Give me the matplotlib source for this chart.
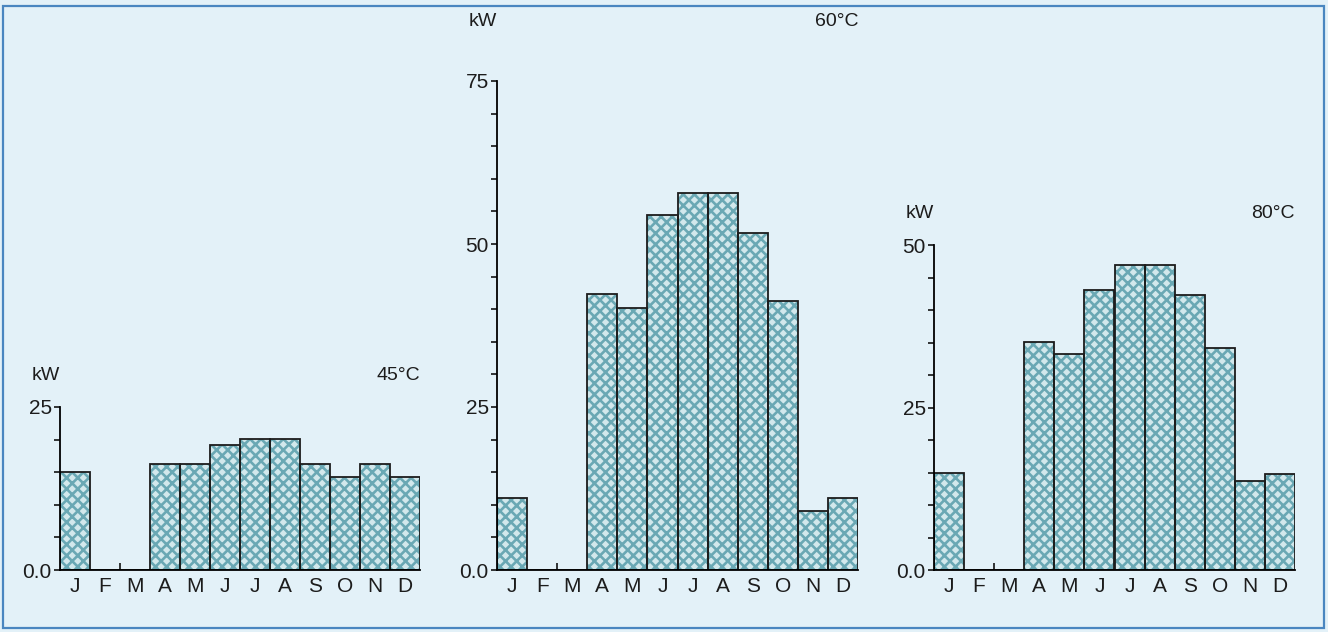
import numpy as np
import matplotlib
matplotlib.use("Agg")
import matplotlib.pyplot as plt
from matplotlib.patches import Rectangle

plt.rcParams["font.family"] = ["Liberation Sans", "DejaVu Sans"]
plt.rcParams["hatch.linewidth"] = 1.9

months = ["J", "F", "M", "A", "M", "J", "J", "A", "S", "O", "N", "D"]
kw_45 = [15.0, 0, 0, 16.2, 16.2, 19.1, 20.1, 20.1, 16.3, 14.2, 16.3, 14.2]
kw_60 = [11.1, 0, 0, 42.4, 40.2, 54.5, 57.8, 57.8, 51.7, 41.2, 9.1, 11.0]
kw_80 = [14.9, 0, 0, 35.1, 33.3, 43.1, 46.9, 46.9, 42.3, 34.1, 13.7, 14.8]
temps = ["45°C", "60°C", "80°C"]
ymax = [25, 75, 50]

BG = "#e3f1f8"
FILL = "#d2e8ec"
HATCH = "#6aa8b4"
INK = "#1c1c1c"

W, H = 1328, 632
fig = plt.figure(figsize=(W / 100, H / 100), dpi=100)
fig.patch.set_facecolor(BG)
fig.patches.append(Rectangle((3 / W, 4 / H), 1 - 7 / W, 1 - 10 / H, transform=fig.transFigure,
                             fill=False, edgecolor="#4a86c0", lw=1.6))

# axes boxes in pixels: left, right, top, bottom (from top of image)
boxes = [(60, 420, 407, 570), (497, 858, 81, 570), (934, 1295, 245, 570)]
label_y = [375, 22, 214]

for data, temp, top, (x0, x1, yt, yb), ly in zip([kw_45, kw_60, kw_80], temps, ymax, boxes, label_y):
    ax = fig.add_axes([x0 / W, 1 - yb / H, (x1 - x0) / W, (yb - yt) / H])
    ax.set_facecolor("none")
    x = np.arange(len(months))
    ax.bar(x, data, width=1.0, color=FILL, hatch="xxx", edgecolor=HATCH, lw=0)
    ax.bar(x, data, width=1.0, fill=False, edgecolor=INK, lw=1.3)
    ax.set_xlim(-0.5, 11.5)
    ax.set_ylim(0, top)
    for s in ["top", "right"]:
        ax.spines[s].set_visible(False)
    ax.spines["left"].set_linewidth(1.3)
    ax.spines["bottom"].set_linewidth(1.3)
    majors = list(range(0, top + 1, 25))
    ax.set_yticks(majors)
    ax.set_yticklabels(["0.0"] + [str(v) for v in majors[1:]], fontsize=15, color=INK)
    ax.set_yticks(np.arange(0, top + 1, 5), minor=True)
    ax.tick_params(axis="y", which="both", direction="out", length=4, width=1.1, pad=2)
    ax.set_xticks([1.5])
    ax.set_xticklabels([""])
    ax.tick_params(axis="x", direction="in", length=5, width=1.1)
    for i, m in enumerate(months):
        ax.annotate(m, (i, 0), xycoords=("data", "axes fraction"), xytext=(0, -5),
                    textcoords="offset points", ha="center", va="top", fontsize=15, color=INK)
    fig.text((x0 - 14) / W, 1 - ly / H, "kW", ha="center", va="center", fontsize=14, color=INK)
    fig.text(x1 / W, 1 - ly / H, temp, ha="right", va="center", fontsize=14, color=INK)

fig.savefig("out.png", dpi=100, facecolor=BG)
